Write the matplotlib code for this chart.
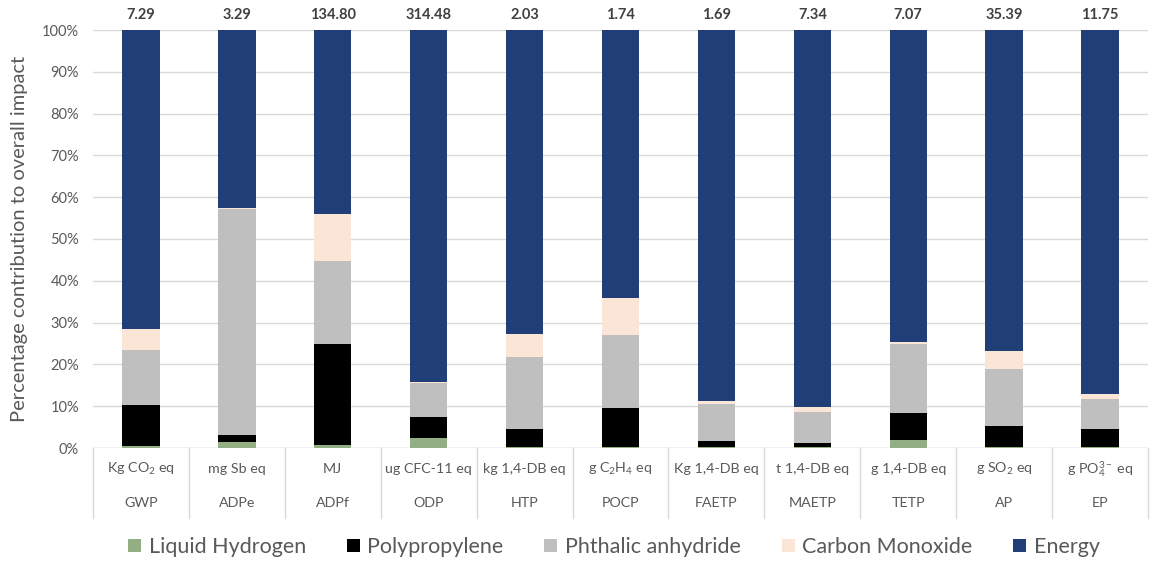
import matplotlib
matplotlib.use("Agg")
import matplotlib.pyplot as plt
import matplotlib.transforms as mtransforms
from matplotlib.patches import Patch
import numpy as np

plt.rcParams["font.family"] = ["Lato", "DejaVu Sans"]
plt.rcParams["mathtext.fontset"] = "custom"
plt.rcParams["mathtext.rm"] = "Lato"
plt.rcParams["mathtext.it"] = "Lato:italic"
plt.rcParams["mathtext.bf"] = "Lato:bold"

# Impact categories, their units and the absolute totals shown above each bar
categories = ["GWP", "ADPe", "ADPf", "ODP", "HTP", "POCP", "FAETP", "MAETP", "TETP", "AP", "EP"]
units = ["Kg CO$_2$ eq", "mg Sb eq", "MJ", "ug CFC-11 eq", "kg 1,4-DB eq",
         "g C$_2$H$_4$ eq", "Kg 1,4-DB eq", "t 1,4-DB eq", "g 1,4-DB eq",
         "g SO$_2$ eq", "g PO$_4^{3-}$ eq"]
totals = ["7.29", "3.29", "134.80", "314.48", "2.03", "1.74", "1.69", "7.34", "7.07", "35.39", "11.75"]

# Percentage contribution of each input (%)
liquid_hydrogen = [0.5, 1.5, 0.8, 2.5, 0.2, 0.2, 0.2, 0.2, 1.8, 0.2, 0.2]
polypropylene = [9.8, 1.6, 24.0, 4.8, 4.3, 9.4, 1.5, 1.0, 6.5, 5.1, 4.3]
phthalic_anhydride = [13.2, 54.0, 20.0, 8.2, 17.3, 17.4, 8.8, 7.3, 16.7, 13.7, 7.3]
carbon_monoxide = [5.0, 0.2, 11.2, 0.3, 5.5, 9.0, 0.8, 1.2, 0.3, 4.3, 1.0]
energy = [100 - a - b - c - d for a, b, c, d in
          zip(liquid_hydrogen, polypropylene, phthalic_anhydride, carbon_monoxide)]

series = [
    ("Liquid Hydrogen", liquid_hydrogen, "#93AE82"),
    ("Polypropylene", polypropylene, "#000000"),
    ("Phthalic anhydride", phthalic_anhydride, "#BFBFBF"),
    ("Carbon Monoxide", carbon_monoxide, "#FBE5D6"),
    ("Energy", energy, "#203F77"),
]

fig = plt.figure(figsize=(11.65, 5.63), dpi=100)
W, H = 1165, 563
ax = fig.add_axes([93 / W, (H - 448) / H, (1148 - 93) / W, (448 - 30) / H])

x = np.arange(len(categories))
bottom = np.zeros(len(categories))
for name, vals, color in series:
    vals = np.array(vals, dtype=float)
    ax.bar(x, vals, width=0.39, bottom=bottom, color=color, label=name, zorder=3)
    bottom += vals

ax.set_xlim(-0.5, len(categories) - 0.5)
ax.set_ylim(0, 100)
ax.set_yticks(np.arange(0, 101, 10))
ax.set_yticklabels([f"{v}%" for v in range(0, 101, 10)], fontsize=10.5, color="#595959")
ax.tick_params(axis="y", length=0, pad=10)
ax.set_xticks([])
ax.grid(axis="y", color="#D9D9D9", linewidth=1, zorder=0)
for s in ax.spines.values():
    s.set_visible(False)
ax.axhline(0, color="#D9D9D9", linewidth=1, zorder=2)

ax.set_ylabel("Percentage contribution to overall impact", fontsize=14.5,
              color="#595959", labelpad=10)

# totals above bars
for xi, t in zip(x, totals):
    ax.text(xi, 103.5, t, ha="center", va="center", fontsize=10.5,
            fontweight="bold", color="#404040")

# two-level category axis
trans = mtransforms.blended_transform_factory(ax.transData, ax.transAxes)
ah = 448 - 30
for xi, (u, c) in enumerate(zip(units, categories)):
    ax.text(xi, -21 / ah, u, transform=trans, ha="center", va="center",
            fontsize=10.3, color="#595959")
    ax.text(xi, -55 / ah, c, transform=trans, ha="center", va="center",
            fontsize=10.3, color="#595959")
for b in np.arange(-0.5, len(categories), 1.0):
    ax.plot([b, b], [0, -70 / ah], transform=trans, color="#D9D9D9",
            linewidth=1, clip_on=False)

handles = [Patch(facecolor=c, label=n) for n, _, c in series]
fig.legend(handles=handles, loc="center", bbox_to_anchor=(614 / W, (H - 547) / H),
           ncol=5, frameon=False, fontsize=15.5, handlelength=0.6, handleheight=0.6,
           handletextpad=0.35, columnspacing=1.9, labelcolor="#595959")

fig.savefig("out.png", dpi=100)
